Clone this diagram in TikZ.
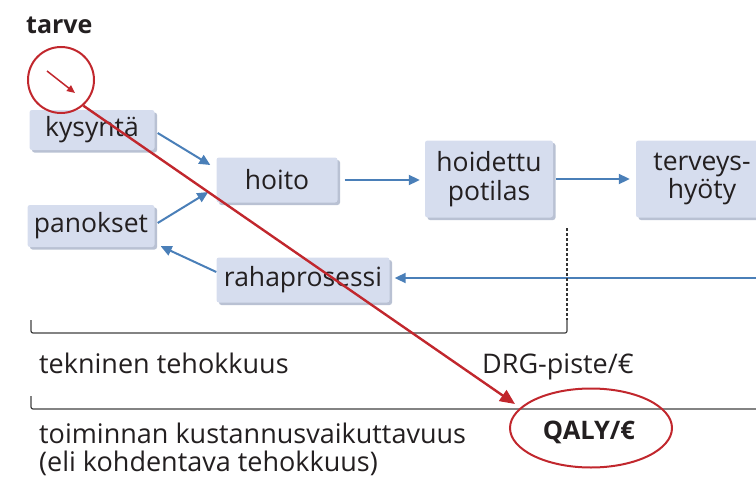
\documentclass[tikz,border=0pt]{standalone}
\usepackage{fontspec}
\setmainfont{Open Sans}
\usetikzlibrary{arrows.meta,shapes.geometric,shadows}
\definecolor{boxfill}{HTML}{D6DDEE}
\definecolor{boxshadow}{HTML}{B9C1D3}
\definecolor{arrowblue}{HTML}{4A7FB8}
\definecolor{redline}{HTML}{C1272D}
\definecolor{txt}{HTML}{231F20}
\tikzset{
  procbox/.style={fill=boxfill, rounded corners=2.5pt, align=center, inner sep=0pt,
    font=\fontsize{26.5}{28.5}\selectfont, text=txt,
    drop shadow={shadow xshift=2.5pt, shadow yshift=-2.5pt, fill=boxshadow, opacity=1}},
  bluearrow/.style={draw=arrowblue, line width=2pt, -{Triangle[length=11pt,width=10pt]}},
  redarrow/.style={draw=redline, line width=2.4pt, -{Triangle[length=15pt,width=13pt]}},
  lbl/.style={font=\fontsize{27}{29}\selectfont, text=txt, inner sep=0pt},
  brace/.style={draw=black!75, line width=1.2pt, rounded corners=2pt},
}
\begin{document}
\begin{tikzpicture}[x=1pt,y=-1pt]
\clip (0,0) rectangle (756,479);
\useasboundingbox (0,0) rectangle (756,479);

% boxes
\node[procbox, minimum width=125pt, minimum height=40pt] (kys) at (92,130) {kysyntä};
\node[procbox, minimum width=127pt, minimum height=42pt] (pan) at (91,226) {panokset};
\node[procbox, minimum width=121pt, minimum height=45pt] (hoito) at (277,180) {hoito};
\node[procbox, minimum width=128pt, minimum height=77pt] (hp) at (489,179) {hoidettu\\potilas};
\node[procbox, minimum width=132pt, minimum height=77pt] (th) at (702,179) {terveys-\\hyöty};
\node[procbox, minimum width=173pt, minimum height=45pt] (raha) at (303,280) {rahaprosessi};

% blue arrows
\coordinate (rightedge) at (760,278);
\draw[bluearrow] ([xshift=3pt,yshift=-3pt]kys.east) -- ([xshift=-6pt,yshift=15pt]hoito.west);
\draw[bluearrow] ([xshift=3pt,yshift=3pt]pan.east) -- ([xshift=-8pt,yshift=-12pt]hoito.west);
\draw[bluearrow] ([yshift=8pt]raha.west) -- ([xshift=6pt,yshift=1pt]pan.south east);
\draw[bluearrow, shorten <=7pt, shorten >=5pt] (hoito.east) -- (hoito.east -| hp.west);
\draw[bluearrow, shorten <=3pt, shorten >=6pt] (hp.east) -- (hp.east -| th.west);
\draw[bluearrow, shorten >=5pt] (rightedge) -- (raha.east |- rightedge);

% dotted line and brackets
\coordinate (dtop) at (567,228);
\coordinate (b1r) at (567,333);
\coordinate (b1l) at (31,320);
\draw[black!80, line width=1.6pt, dash pattern=on 2.5pt off 2.5pt] (dtop) -- (567,320);
\draw[brace] (b1l) |- (b1r) -- (567,320);
\coordinate (b2l) at (31,396);
\coordinate (b2r) at (760,409);
\draw[brace] (b2l) |- (b2r);

% labels
\node[lbl, anchor=base west] (tek) at (39,373) {tekninen tehokkuus};
\node[lbl, anchor=base west] (drg) at (482,373) {DRG-piste/€};
\node[lbl, anchor=base west] (toim1) at (39,443) {toiminnan kustannusvaikuttavuus};
\node[lbl, anchor=base west] (toim2) at (39,471) {(eli kohdentava tehokkuus)};
\node[lbl, anchor=base west, font=\fontsize{25}{25}\selectfont\bfseries] (tarve) at (26,34) {tarve};

% red circle, ellipse and arrow
\node[draw=redline, line width=2pt, circle, minimum size=66pt, inner sep=0pt] (circ) at (61,80) {};
\node[draw=redline, line width=2pt, ellipse, minimum width=162pt, minimum height=79pt, inner sep=0pt] (qaly) at (591,428) {};
\node[lbl, font=\fontsize{25.5}{25.5}\selectfont\bfseries] (qalyt) at (589,432) {QALY/€};
\coordinate (s1) at (47,71);
\coordinate (s2) at (75,93);
\draw[draw=redline, line width=1.5pt, -{Triangle[length=8pt,width=7pt]}] (s1) -- (s2);
\coordinate (redtip) at (515,404);
\draw[redarrow] (circ.-49) -- (redtip);
\end{tikzpicture}
\end{document}
